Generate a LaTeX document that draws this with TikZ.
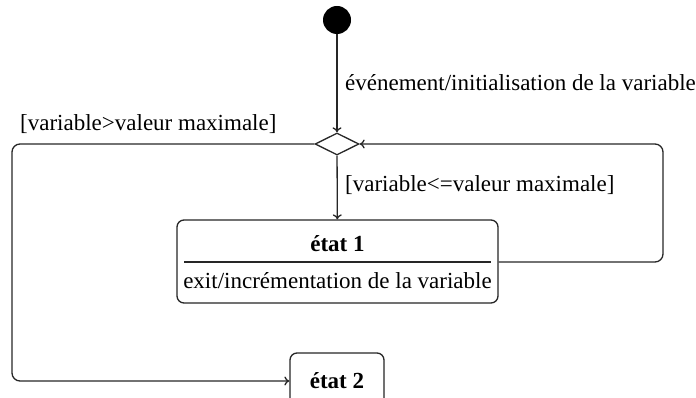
\documentclass[tikz,border=0pt]{standalone}
\usepackage{fontspec}
\setmainfont{Liberation Serif}
\usetikzlibrary{shapes.geometric,arrows.meta}
\begin{document}
\begin{tikzpicture}[x=1pt,y=-1pt,
  line/.style={draw=black!85, line width=1.3pt},
  arr/.style={line, -{To[length=5pt,width=9pt]}},
  lbl/.style={font=\fontsize{23}{26}\selectfont, inner sep=0pt, anchor=west},
  title/.style={font=\fontsize{23}{26}\selectfont\bfseries, inner sep=0pt},
  state/.style={line, rounded corners=7pt, fill=white}]
\useasboundingbox (0,0) rectangle (696,398);
\clip (0,0) rectangle (696,398);

% initial pseudo-state and decision
\node[fill=black, circle, minimum size=28pt, inner sep=0pt] (start) at (337,20) {};
\node[diamond, line, minimum width=44pt, minimum height=22pt, aspect=2, inner sep=0pt] (dec) at (337,144) {};

% state 1 with its exit action
\node[state, minimum width=321pt, minimum height=83pt] (e1) at (337.5,261.5) {};
\node[title] (e1t) at (337.5,244) {état 1};
\coordinate (sepL) at (184,262);
\coordinate (sepR) at (491,262);
\draw[line] (sepL) -- (sepR);
\node[lbl, anchor=center] (e1b) at (337.5,281) {exit/incrémentation de la variable};

% state 2
\node[state, minimum width=94pt, minimum height=56pt] (e2) at (337,381) {};
\node[title] (e2t) at (337,381) {état 2};

% transitions
\draw[arr] (start) -- (dec);
\draw[arr] (dec) -- (e1);
\draw[arr, rounded corners=8pt] (sepR -| e1.east) -- (663,262) -- (663,144) -- (dec.east);
\draw[arr, rounded corners=8pt] (dec.west) -- (12,144) -- (12,381) -- (e2.west);

% transition labels
\node[lbl] (l1) at (345,83) {événement/initialisation de la variable};
\node[lbl] (l2) at (20,124) {[variable>valeur maximale]};
\node[lbl] (l3) at (345,185) {[variable<=valeur maximale]};
\end{tikzpicture}
\end{document}
